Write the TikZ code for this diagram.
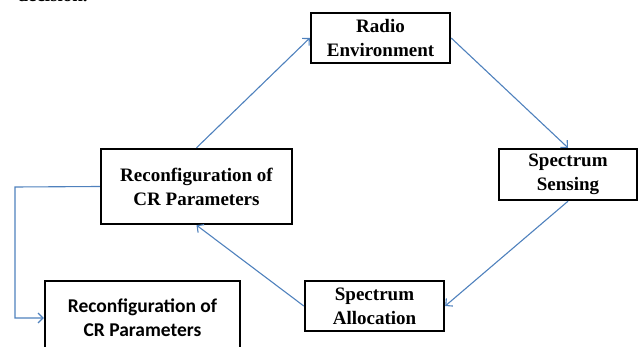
\documentclass[tikz,border=0pt]{standalone}
\usepackage{fontspec}
\setmainfont{Liberation Serif}
\newfontfamily\calibri{Carlito}
\usepackage{tikz}
\usetikzlibrary{arrows.meta}

\definecolor{linkblue}{RGB}{79,129,189}

\begin{document}
\begin{tikzpicture}[x=1pt, y=-1pt,
        box/.style={draw, line width=2.4pt, inner sep=0pt, align=center,
            font=\fontsize{19}{24}\selectfont\bfseries},
        flow/.style={draw=linkblue, line width=1.1pt,
            -{Straight Barb[length=5pt, width=10pt]}}]
    \useasboundingbox (0,0) rectangle (638,347);
    \clip (0,0) rectangle (638,347);

    \node[anchor=base west, font=\fontsize{19}{24}\selectfont\bfseries] (txt) at (14,2) {decision.};

    \node[box, minimum width=139pt, minimum height=50pt] (radio) at (380.5,38) {Radio\\Environment};
    \node[box, minimum width=138pt, minimum height=51pt] (sense) at (568,174.5) {Spectrum\\Sensing};
    \node[box, minimum width=139pt, minimum height=50pt] (alloc) at (374.5,306) {Spectrum\\Allocation};
    \node[box, minimum width=191pt, minimum height=75pt] (reconf) at (196.5,186.5) {Reconfiguration of\\CR Parameters};
    \node[box, minimum width=195pt, minimum height=74pt,
        font=\calibri\fontsize{19.5}{24}\selectfont\bfseries] (reconf2) at (142.5,318) {Reconfiguration of\\CR Parameters};

    \coordinate (bend) at (15,187);

    \draw[flow] (reconf.north) -- (radio.west);
    \draw[flow] (radio.east) -- (sense.north);
    \draw[flow] (sense.south) -- (alloc.east);
    \draw[flow] (alloc.west) -- (reconf.south);
    \draw[flow] (reconf.west) -- (bend) |- (reconf2.west);
\end{tikzpicture}
\end{document}
